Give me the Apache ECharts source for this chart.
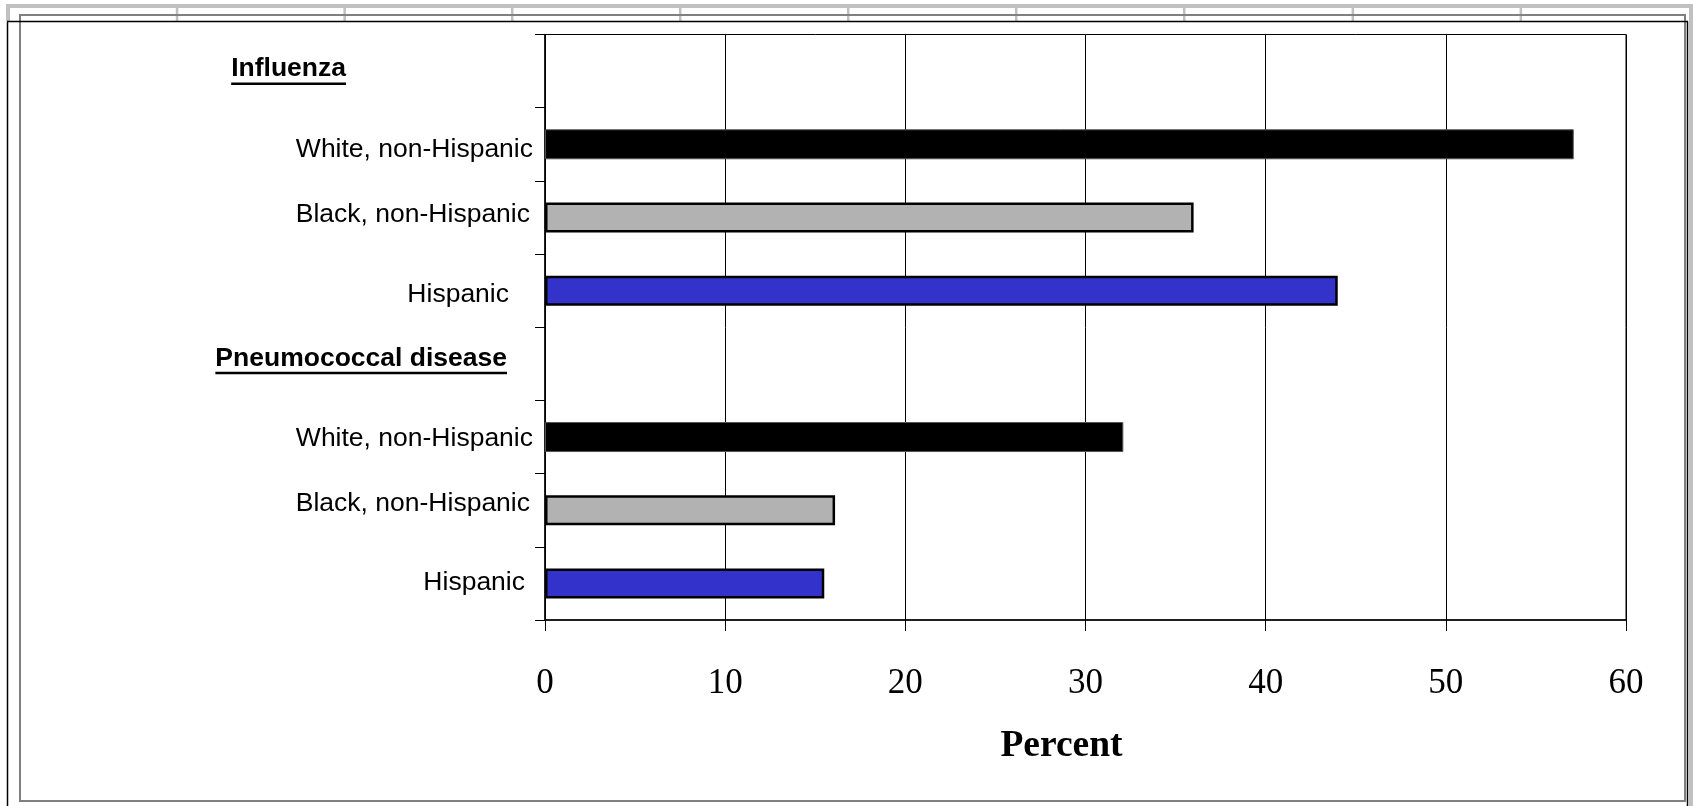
<!DOCTYPE html>
<html>
<head>
<meta charset="utf-8">
<script src="https://cdn.jsdelivr.net/npm/echarts@6/dist/echarts.min.js"></script>
<style>
html,body{margin:0;padding:0;background:#fff;}
#c{width:1693px;height:806px;}
</style>
</head>
<body>
<div id="c"></div>
<script>
// ---- data ----
const categories = ["Influenza", "White, non-Hispanic", "Black, non-Hispanic", "Hispanic",
                    "Pneumococcal disease", "White, non-Hispanic", "Black, non-Hispanic", "Hispanic"];
const values = [null, 57.1, 36.0, 44.0, null, 32.1, 16.1, 15.5];
const groupKind = ["header", "white", "black", "hispanic", "header", "white", "black", "hispanic"];
const xMin = 0, xMax = 60, xStep = 10;
const xTitle = "Percent";

// ---- styles ----
const kindStyle = {
  white:    { color: "#000000", borderColor: "#555555", borderWidth: 1 },
  black:    { color: "#B2B2B2", borderColor: "#000000", borderWidth: 2.5 },
  hispanic: { color: "#3333CC", borderColor: "#000000", borderWidth: 2.5 }
};
const labelDy = [-2, 5, -3, 4, -5.5, 2, -7, -1];
const labelPadRight = [187, 0, 3, 24, 26, 0, 3, 8];
const labelMargin = 12;
const axisX = 545;
const headerFont = 26.5, bodyFont = 26.5;

const rich = {};
categories.forEach((c, i) => {
  const dy = labelDy[i];
  const hdr = groupKind[i] === 'header';
  rich['s' + i] = {
    fontFamily: '"Liberation Sans", Arial, sans-serif',
    fontSize: hdr ? headerFont : bodyFont,
    fontWeight: hdr ? 'bold' : 'normal',
    color: '#000',
    padding: [dy > 0 ? 2 * dy : 0, labelPadRight[i], dy < 0 ? -2 * dy : 0, 0]
  };
});

const barData = values.map((v, i) => {
  if (v === null) return '-';
  return { value: v, itemStyle: kindStyle[groupKind[i]] };
});

const chart = echarts.init(document.getElementById('c'), null, { renderer: 'canvas' });

// decorative frame (spreadsheet-like border)
const frame = [];
const lg = '#C0C0C0', dg = '#808080';
frame.push({ type: 'rect', shape: { x: 6, y: 4, width: 1687, height: 4 }, style: { fill: lg }, silent: true });
frame.push({ type: 'rect', shape: { x: 6, y: 4, width: 4, height: 17 }, style: { fill: lg }, silent: true });
frame.push({ type: 'rect', shape: { x: 1689, y: 4, width: 4, height: 802 }, style: { fill: lg }, silent: true });
[176.8, 344.4, 512, 680, 848, 1016, 1184, 1352.6, 1520.6].forEach(x => {
  frame.push({ type: 'rect', shape: { x: x - 1, y: 4, width: 2.5, height: 17 }, style: { fill: lg }, silent: true });
});
frame.push({ type: 'rect', shape: { x: 20, y: 15, width: 1665, height: 786 }, style: { fill: null, stroke: dg, lineWidth: 2 }, silent: true });
frame.push({ type: 'line', shape: { x1: 7, y1: 21.5, x2: 1688, y2: 21.5 }, style: { stroke: '#000', lineWidth: 1.5 }, silent: true });
frame.push({ type: 'line', shape: { x1: 7.5, y1: 21.5, x2: 7.5, y2: 806 }, style: { stroke: '#000', lineWidth: 1.5 }, silent: true });
frame.push({ type: 'line', shape: { x1: 1687.5, y1: 21.5, x2: 1687.5, y2: 806 }, style: { stroke: '#000', lineWidth: 1.5 }, silent: true });

chart.setOption({
  animation: false,
  backgroundColor: '#fff',
  grid: { left: axisX, right: 67, top: 34.5, bottom: 186, show: true, borderColor: '#000', borderWidth: 1, backgroundColor: 'transparent' },
  xAxis: {
    type: 'value', min: xMin, max: xMax, interval: xStep,
    axisLine: { show: true, lineStyle: { color: '#000', width: 1.5 } },
    axisTick: { show: true, length: 11, lineStyle: { color: '#000' } },
    splitLine: { show: true, lineStyle: { color: '#000', width: 1 } },
    axisLabel: { fontFamily: '"Liberation Serif", "Times New Roman", serif', fontSize: 35, color: '#000', margin: 46 },
    name: xTitle, nameLocation: 'middle', nameGap: 107,
    nameTextStyle: { fontFamily: '"Liberation Serif", "Times New Roman", serif', fontSize: 37.5, fontWeight: 'bold', color: '#000', padding: [0, 48, 0, 0] }
  },
  yAxis: {
    type: 'category', data: categories, inverse: true,
    axisLine: { show: true, lineStyle: { color: '#000', width: 1.5 } },
    axisTick: { show: true, length: 10, lineStyle: { color: '#000' } },
    splitLine: { show: false },
    axisLabel: {
      margin: labelMargin, interval: 0,
      formatter: (v, i) => '{s' + i + '|' + v + '}',
      rich: rich
    }
  },
  series: [{
    type: 'bar', data: barData, barWidth: 30, barGap: '0%'
  }],
  graphic: frame
});

// underline header labels
const ctx = document.createElement('canvas').getContext('2d');
ctx.font = 'bold ' + headerFont + 'px "Liberation Sans", Arial, sans-serif';
const ul = [];
categories.forEach((c, i) => {
  if (groupKind[i] !== 'header') return;
  const cy = chart.convertToPixel({ yAxisIndex: 0 }, i) + labelDy[i];
  const xr = axisX - labelMargin - labelPadRight[i];
  const w = ctx.measureText(c).width;
  ul.push({ type: 'rect', shape: { x: xr - w, y: cy + 13.5, width: w, height: 2.5 }, style: { fill: '#000' }, silent: true });
});
chart.setOption({ graphic: frame.concat(ul) });
</script>
</body>
</html>
